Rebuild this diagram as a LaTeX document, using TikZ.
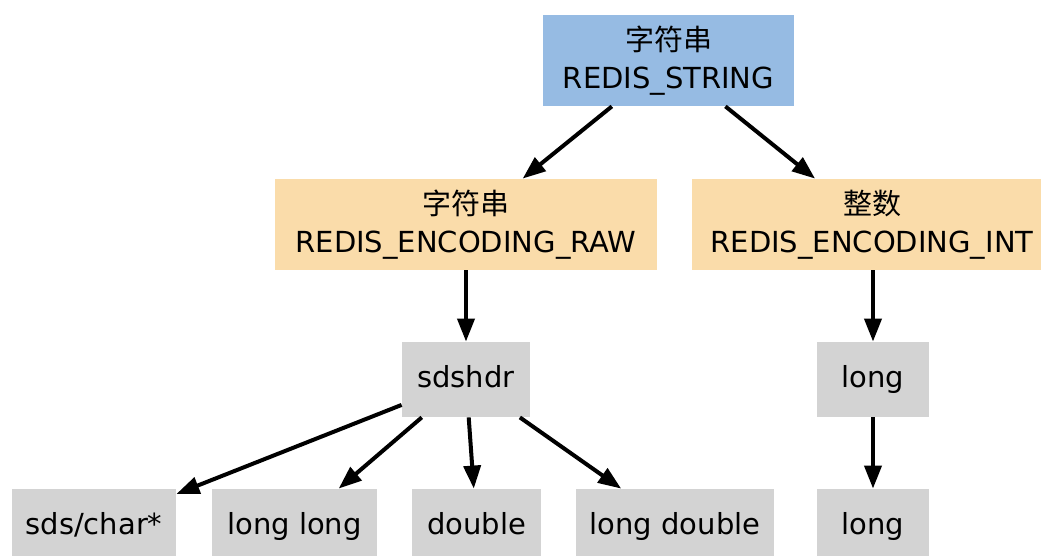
\documentclass[tikz,border=0pt]{standalone}
\usepackage{fontspec}
\setmainfont{DejaVu Sans}
\newfontfamily\cjk{Noto Sans CJK SC}
\usetikzlibrary{arrows.meta}
\definecolor{topblue}{RGB}{150,187,227}
\definecolor{encorange}{RGB}{250,220,170}
\definecolor{boxgray}{RGB}{211,211,211}
\begin{document}
\begin{tikzpicture}[x=0.5pt,y=-0.5pt,
  box/.style={inner sep=0pt, draw=none, align=center, font=\fontsize{14.5}{19}\selectfont},
  graybox/.style={box, fill=boxgray, minimum height=37.5pt, text height=11pt, text depth=3.5pt},
  edge/.style={line width=2pt, draw=black, -{Triangle[length=11.5pt,width=8.5pt]}}]
\useasboundingbox (0,0) rectangle (1041,556);
\clip (0,0) rectangle (1041,556);
\node[box, fill=topblue, minimum width=125.5pt, minimum height=45.5pt] (top) at (668.5,60.5) {{\cjk 字符串}\\REDIS\_STRING};
\node[box, fill=encorange, minimum width=191pt, minimum height=45.5pt] (raw) at (466,224.5) {{\cjk 字符串}\\REDIS\_ENCODING\_RAW};
\node[box, fill=encorange, minimum width=180pt, minimum height=45.5pt] (int) at (872,224.5) {{\cjk 整数}\\REDIS\_ENCODING\_INT};
\node[graybox, minimum width=64pt] (sdshdr) at (466,379.5) {sdshdr};
\node[graybox, minimum width=56pt] (lng1) at (873,379.5) {long};
\node[graybox, minimum width=82pt] (sds) at (94,526.5) {sds/char*};
\node[graybox, minimum width=82.5pt] (ll) at (294.5,526.5) {long long};
\node[graybox, minimum width=64.5pt] (dbl) at (476.5,526.5) {double};
\node[graybox, minimum width=99pt] (ld) at (675,526.5) {long double};
\node[graybox, minimum width=56pt] (lng2) at (873,526.5) {long};
\draw[edge] (top) -- (raw);
\draw[edge] (top) -- (int);
\draw[edge] (raw) -- (sdshdr);
\draw[edge] (int.south -| lng1) -- (lng1);
\draw[edge] (sdshdr) -- (sds);
\draw[edge] (sdshdr) -- (ll);
\draw[edge] (sdshdr) -- (dbl);
\draw[edge] (sdshdr) -- (ld);
\draw[edge] (lng1) -- (lng2);
\end{tikzpicture}
\end{document}
